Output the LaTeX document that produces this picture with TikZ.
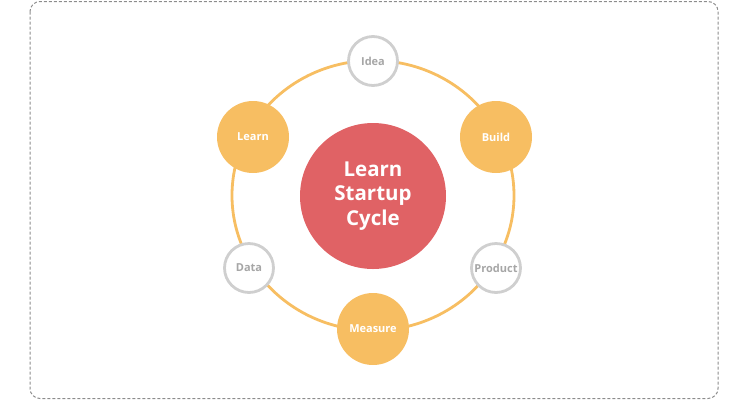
\documentclass[tikz,border=0pt]{standalone}
\usepackage{fontspec}
\setmainfont{Open Sans}
\usetikzlibrary{shapes.geometric}
\definecolor{ora}{HTML}{F7BE62}
\definecolor{redc}{HTML}{E06265}
\definecolor{grayline}{HTML}{CFCFCF}
\definecolor{graytxt}{HTML}{A6A6A6}
\definecolor{framec}{HTML}{8C8C8C}
\tikzset{
  orangenode/.style={circle, fill=ora, minimum size=72pt, inner sep=0pt, text=white, font=\fontsize{11}{13}\selectfont\bfseries},
  graynode/.style={circle, fill=white, draw=grayline, line width=2.8pt, minimum size=49pt, inner sep=0pt, text=graytxt, font=\fontsize{11}{13}\selectfont\bfseries},
  centernode/.style={circle, fill=redc, minimum size=146pt, inner sep=0pt, text=white, align=center, font=\fontsize{20.5}{24.5}\selectfont\bfseries},
  ringstyle/.style={ellipse, draw=ora, line width=2.8pt, minimum width=282pt, minimum height=270pt, inner sep=0pt},
  framestyle/.style={draw=framec, line width=1pt, dash pattern=on 3pt off 2pt, rounded corners=10pt}
}
\begin{document}
\begin{tikzpicture}[x=1pt,y=-1pt]
\useasboundingbox (0,0) rectangle (750,400);
\draw[framestyle] (30,1.5) rectangle (718,398.5);
\node[ringstyle] (ring) at (373,195.5) {};
\node[centernode] (center) at (373,196) {Learn\\Startup\\Cycle};
\node[graynode] (idea) at (373,61) {Idea};
\node[orangenode] (build) at (496,137) {Build};
\node[graynode] (product) at (496,268) {Product};
\node[orangenode] (measure) at (373,329) {Measure};
\node[graynode] (data) at (249,268) {Data};
\node[orangenode] (learn) at (253,137) {Learn};
\end{tikzpicture}
\end{document}
